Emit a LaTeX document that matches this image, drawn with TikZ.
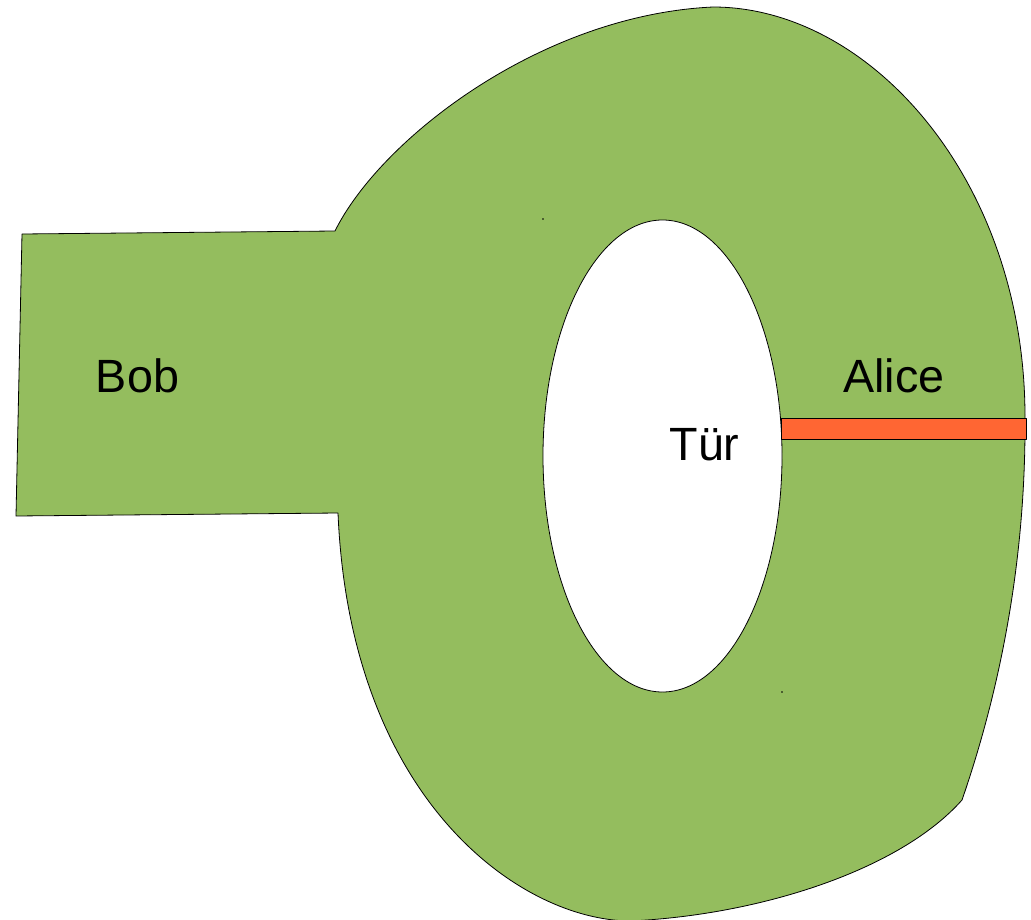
\documentclass[tikz,border=0pt]{standalone}
\usepackage{fontspec}
\setmainfont{Liberation Sans}
\definecolor{grass}{RGB}{148,189,94}
\definecolor{barred}{RGB}{255,102,51}
\begin{document}
\begin{tikzpicture}[x=0.75pt,y=-0.75pt,
  outline/.style={draw=black,line width=0.6pt,line join=round},
  label/.style={anchor=base,inner sep=0pt,font=\fontsize{35}{42}\selectfont}]
\useasboundingbox (0,0) rectangle (1031,920);

% the green area: corridor on the left, ring around the door
\path[outline,fill=grass]
  (22,234) -- (335,231)
  .. controls (380,140) and (540,15) .. (713,7)
  .. controls (870,7) and (1025,180) .. (1025,417)
  .. controls (1026,560) and (1000,690) .. (962,800)
  .. controls (900,870) and (760,915) .. (630,921)
  .. controls (520,920) and (350,800) .. (338,513)
  -- (16,516) -- cycle;

% the door in the middle
\draw[outline,fill=white] (662.5,456) ellipse [x radius=119.5, y radius=236];

% the barrier held by Alice
\draw[outline,fill=barred] (781,418) rectangle (1026,439);

% two small specks
\fill (543,219) circle [radius=0.8];
\fill (782,692) circle [radius=0.8];

\node[label] (bob) at (137.5,392) {Bob};
\node[label] (alice) at (894,392) {Alice};
\node[label] (tuer) at (704.5,460) {Tür};
\end{tikzpicture}
\end{document}
